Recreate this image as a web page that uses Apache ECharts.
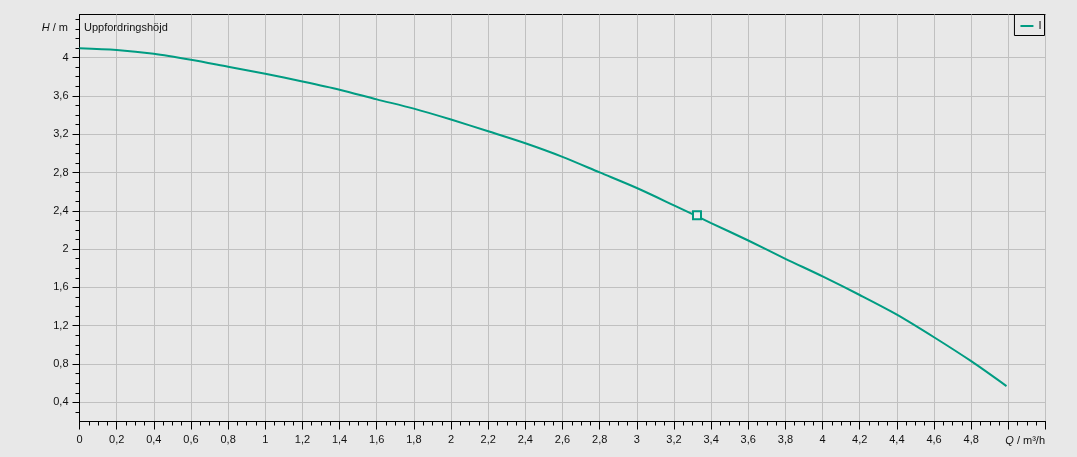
<!DOCTYPE html>
<html>
<head>
<meta charset="utf-8">
<script src="https://cdn.jsdelivr.net/npm/echarts@6/dist/echarts.min.js"></script>
<style>
html,body{margin:0;padding:0;background:#e8e8e8;}
#chart{width:1077px;height:457px;}
</style>
</head>
<body>
<div id="chart"></div>
<script>
// Data
var seriesName = 'I';
var qValues = [0, 0.2, 0.4, 0.6, 0.8, 1.0, 1.2, 1.4, 1.6, 1.8, 2.0, 2.2, 2.4, 2.6, 2.8, 3.0, 3.2, 3.4, 3.6, 3.8, 4.0, 4.2, 4.4, 4.6, 4.8, 4.99];
var hValues = [4.098, 4.08, 4.04, 3.977, 3.904, 3.831, 3.751, 3.665, 3.564, 3.467, 3.353, 3.231, 3.106, 2.964, 2.801, 2.638, 2.457, 2.272, 2.09, 1.899, 1.715, 1.521, 1.316, 1.08, 0.83, 0.57];
var dutyPoint = [3.324, 2.354];
var yMajorTicks = [0.4, 0.8, 1.2, 1.6, 2.0, 2.4, 2.8, 3.2, 3.6, 4.0];
var yMinorTicks = [0.3, 0.5, 0.6, 0.7, 0.9, 1.0, 1.1, 1.3, 1.4, 1.5, 1.7, 1.8, 1.9, 2.1, 2.2, 2.3, 2.5, 2.6, 2.7, 2.9, 3.0, 3.1, 3.3, 3.4, 3.5, 3.7, 3.8, 3.9, 4.1, 4.2, 4.3, 4.4];
var titleText = 'Uppfordringshöjd';
var yName = 'H';
var yUnit = ' / m';
var xName = 'Q';
var xUnit = ' / m³/h';

var teal = '#009c82';
var font = '"Liberation Sans", Arial, sans-serif';
function fmt(v) { return String(+(+v).toFixed(2)).replace('.', ','); }

var lineData = qValues.map(function (q, i) { return [q, hValues[i]]; });

var chart = echarts.init(document.getElementById('chart'), null, { renderer: 'canvas' });
chart.setOption({
  backgroundColor: '#e8e8e8',
  animation: false,
  grid: {
    left: 79.5, right: 31.5, top: 14.5, bottom: 35.5,
    show: true, borderColor: '#000', borderWidth: 1, backgroundColor: '#e8e8e8'
  },
  title: [
    { text: titleText, left: 84, top: 22, padding: 0,
      textStyle: { fontSize: 11, fontWeight: 'normal', color: '#111', fontFamily: font } },
    { text: '{i|' + yName + '}' + yUnit, right: 1077 - 68, top: 22, padding: 0,
      textStyle: { fontSize: 11, fontWeight: 'normal', color: '#111', fontFamily: font,
        rich: { i: { fontStyle: 'italic', fontSize: 11, color: '#111', fontFamily: font } } } },
    { text: '{i|' + xName + '}' + xUnit, right: 32, top: 435, padding: 0,
      textStyle: { fontSize: 11, fontWeight: 'normal', color: '#111', fontFamily: font,
        rich: { i: { fontStyle: 'italic', fontSize: 11, color: '#111', fontFamily: font } } } }
  ],
  legend: {
    data: [{ name: seriesName, icon: 'rect' }],
    right: 32.5, top: 14.5,
    orient: 'vertical',
    padding: [6, 3, 4, 6],
    itemWidth: 13, itemHeight: 2, itemGap: 0,
    borderColor: '#000', borderWidth: 1, backgroundColor: '#e8e8e8',
    textStyle: { fontSize: 11, color: '#111', fontFamily: font }
  },
  xAxis: {
    type: 'value', min: 0, max: 5.2, interval: 0.2,
    axisLine: { show: true, onZero: false, lineStyle: { color: '#000', width: 1 } },
    axisTick: { show: true, length: 8, lineStyle: { color: '#000' } },
    minorTick: { show: true, splitNumber: 4, length: 4, lineStyle: { color: '#000' } },
    splitLine: { show: true, lineStyle: { color: '#c0c0c0', width: 1 } },
    axisLabel: { fontSize: 11, color: '#111', margin: 13, fontFamily: font,
      formatter: function (v) { return v > 4.9 ? '' : fmt(v); } }
  },
  yAxis: [
    {
      type: 'value', min: 0.2, max: 4.45, position: 'left',
      axisLine: { show: true, lineStyle: { color: '#000', width: 1 } },
      axisTick: { show: true, length: 7, customValues: yMajorTicks, lineStyle: { color: '#000' } },
      splitLine: { show: true, lineStyle: { color: '#c0c0c0', width: 1 } },
      axisLabel: { fontSize: 11, color: '#111', margin: 11, fontFamily: font,
        customValues: yMajorTicks, formatter: function (v) { return fmt(v); } }
    },
    {
      // minor ticks on the left edge
      type: 'value', min: 0.2, max: 4.45, position: 'right', offset: -966,
      axisLine: { show: false },
      axisTick: { show: true, inside: true, length: 4, customValues: yMinorTicks, lineStyle: { color: '#000' } },
      splitLine: { show: false },
      axisLabel: { show: false }
    }
  ],
  series: [
    {
      name: seriesName, type: 'line', data: lineData, smooth: 0.3,
      showSymbol: false, symbol: 'none',
      lineStyle: { color: teal, width: 2 }, itemStyle: { color: teal }
    },
    {
      name: 'duty', type: 'scatter', data: [dutyPoint],
      symbol: 'rect', symbolSize: 8,
      itemStyle: { color: '#eeeeee', borderColor: teal, borderWidth: 2, opacity: 1 },
      z: 5
    }
  ]
});
</script>
</body>
</html>
